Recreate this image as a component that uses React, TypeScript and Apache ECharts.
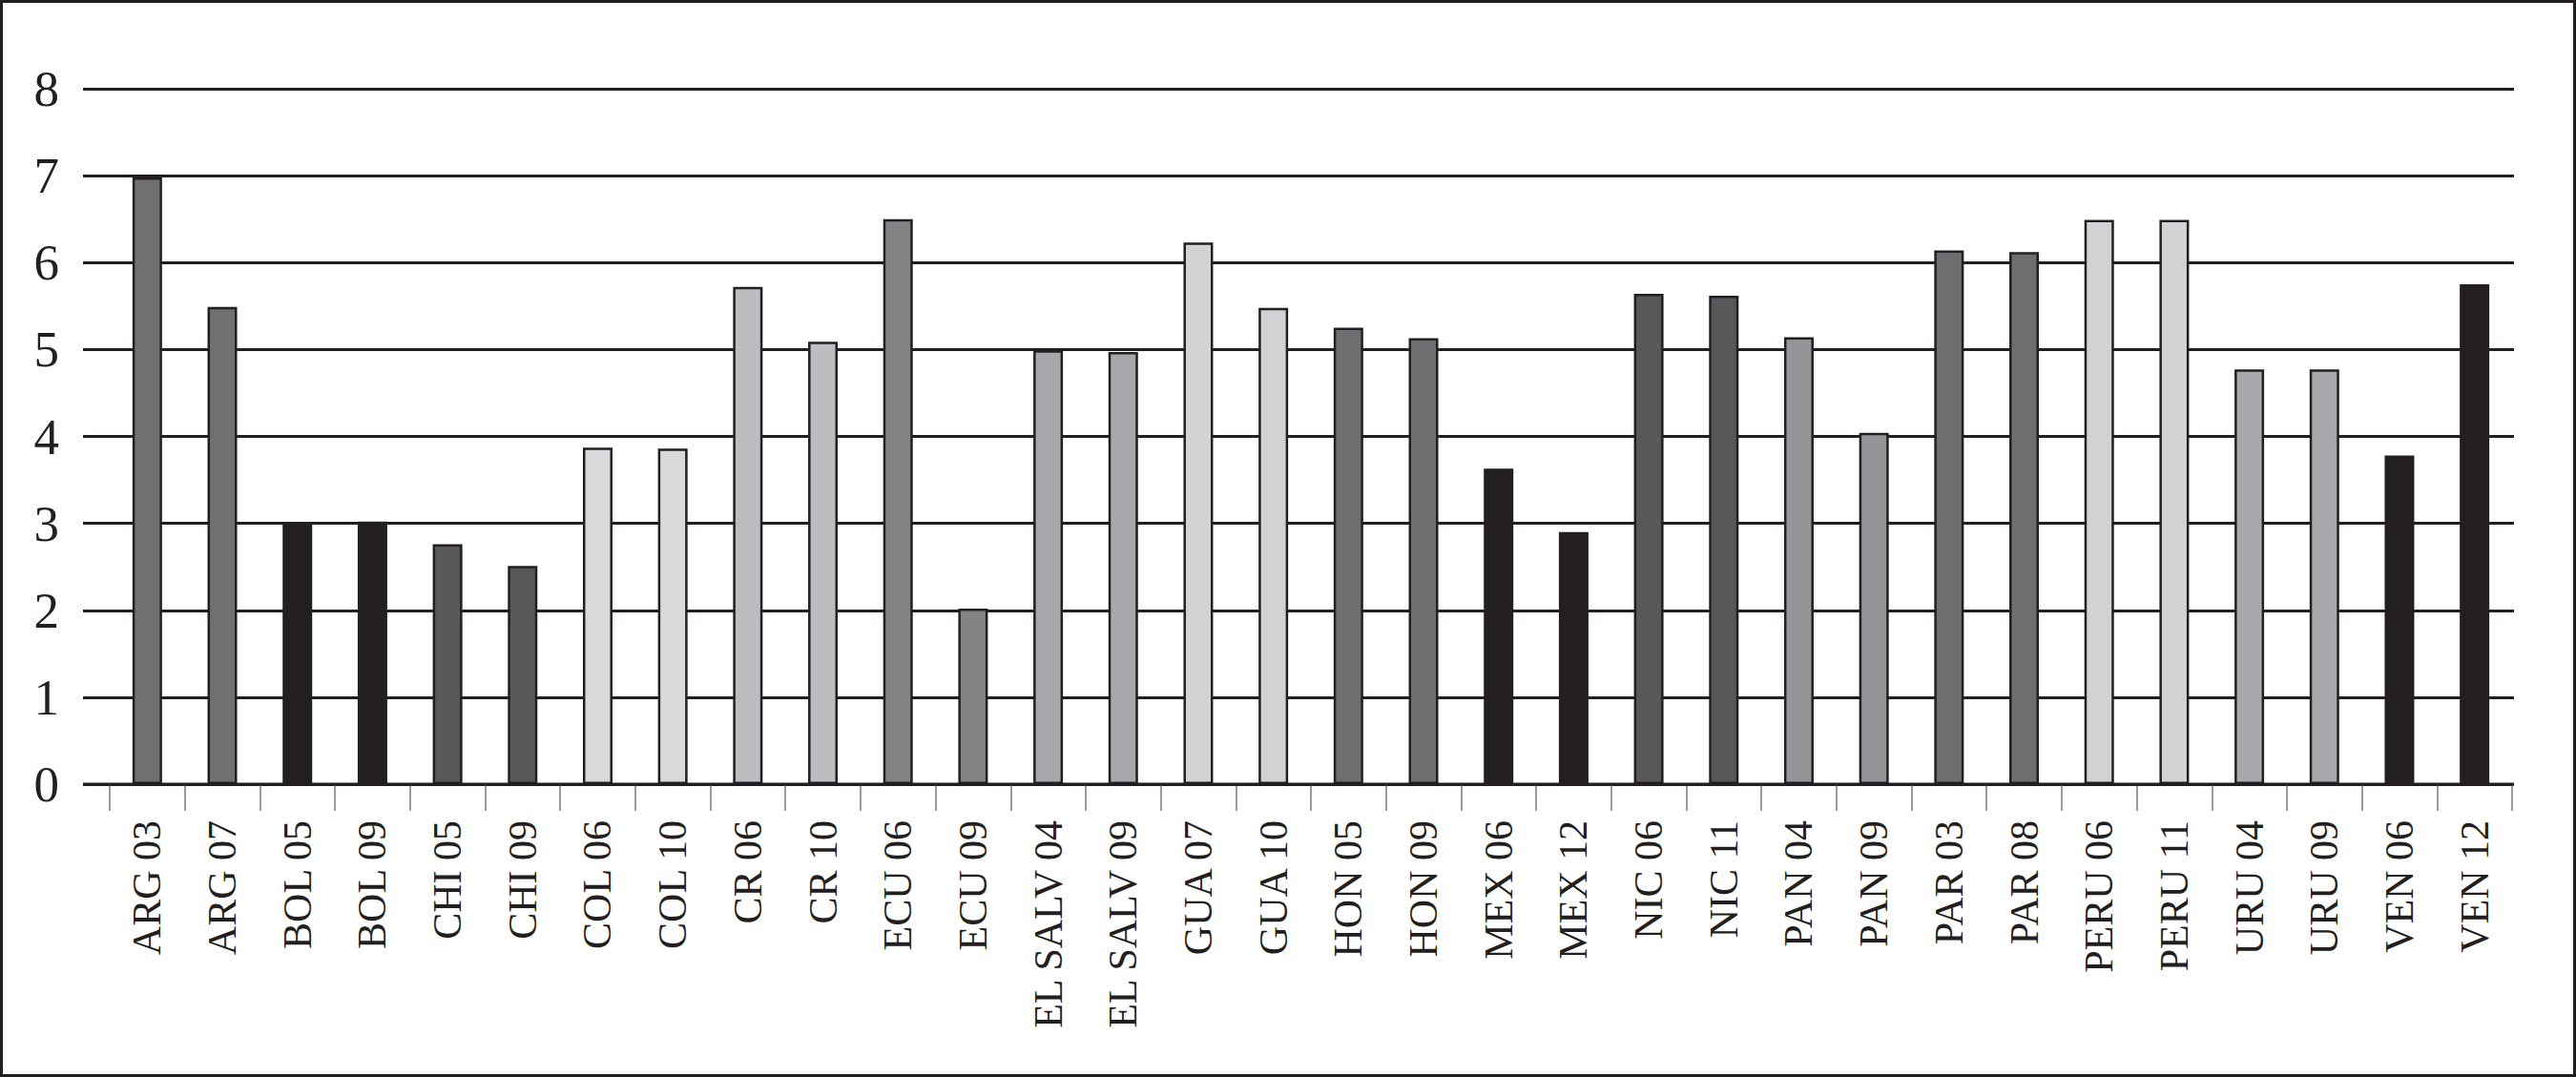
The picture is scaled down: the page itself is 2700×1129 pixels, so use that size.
import React, { useEffect, useRef } from "react";
import * as echarts from "echarts";

const categories: string[] = [
  "ARG 03", "ARG 07", "BOL 05", "BOL 09", "CHI 05", "CHI 09", "COL 06", "COL 10",
  "CR 06", "CR 10", "ECU 06", "ECU 09", "EL SALV 04", "EL SALV 09", "GUA 07", "GUA 10",
  "HON 05", "HON 09", "MEX 06", "MEX 12", "NIC 06", "NIC 11", "PAN 04", "PAN 09",
  "PAR 03", "PAR 08", "PERU 06", "PERU 11", "URU 04", "URU 09", "VEN 06", "VEN 12",
];

const values: number[] = [
  6.98, 5.49, 3.0, 3.02, 2.76, 2.51, 3.87, 3.86,
  5.72, 5.09, 6.5, 2.02, 4.99, 4.97, 6.23, 5.48,
  5.25, 5.13, 3.63, 2.9, 5.64, 5.62, 5.14, 4.04,
  6.14, 6.12, 6.49, 6.49, 4.77, 4.77, 3.78, 5.75,
];

const yTicks: number[] = [0, 1, 2, 3, 4, 5, 6, 7, 8];

// fill colour per country (style)
const countryColor: Record<string, string> = {
  ARG: "#707071",
  BOL: "#231f20",
  CHI: "#58585a",
  COL: "#d9d9db",
  CR: "#bcbdc0",
  ECU: "#828385",
  "EL SALV": "#a7a8ab",
  GUA: "#d1d2d4",
  HON: "#6d6e70",
  MEX: "#231f20",
  NIC: "#58585a",
  PAN: "#939598",
  PAR: "#6d6e70",
  PERU: "#d1d2d4",
  URU: "#a7a9ac",
  VEN: "#231f20",
};

const INK = "#231f20";
const FONT = "'Liberation Serif', 'Times New Roman', serif";

function colorFor(cat: string): string {
  const key = cat.replace(/\s+\d+$/, "");
  return countryColor[key] || "#888";
}

export default function App() {
  const ref = useRef<HTMLDivElement>(null);

  useEffect(() => {
    if (!ref.current) return;
    const chart = echarts.init(ref.current, undefined, { renderer: "svg" });
    const yMin = yTicks[0];
    const yMax = yTicks[yTicks.length - 1];
    chart.setOption({
      animation: false,
      backgroundColor: "#ffffff",
      grid: [
        { left: 87, top: 93, width: 2548, height: 729, containLabel: false },
        { left: 115, top: 93, width: 2518, height: 729, containLabel: false },
      ],
      xAxis: [
        {
          gridIndex: 0,
          type: "value",
          show: false,
        },
        {
          gridIndex: 1,
          type: "category",
          data: categories,
          boundaryGap: true,
          axisLine: { show: false },
          axisTick: {
            show: true,
            interval: 0,
            length: 28,
            lineStyle: { color: "#7a7a7a", width: 1.5 },
          },
          axisLabel: {
            interval: 0,
            rotate: 90,
            margin: 38,
            fontSize: 42,
            fontFamily: FONT,
            color: INK,
          },
          splitLine: { show: false },
        },
      ],
      yAxis: [
        {
          gridIndex: 0,
          type: "value",
          min: yMin,
          max: yMax,
          interval: 1,
          axisLine: { show: false },
          axisTick: { show: false },
          axisLabel: {
            margin: 25,
            fontSize: 53,
            fontFamily: FONT,
            color: INK,
          },
          splitLine: { show: true, lineStyle: { color: INK, width: 3 } },
        },
        {
          gridIndex: 1,
          type: "value",
          min: yMin,
          max: yMax,
          interval: 1,
          show: false,
          splitLine: { show: false },
        },
      ],
      series: [
        {
          type: "bar",
          xAxisIndex: 1,
          yAxisIndex: 1,
          barWidth: 31,
          z: 1,
          data: values.map((v, i) => ({
            value: v,
            itemStyle: {
              color: colorFor(categories[i]),
              borderColor: INK,
              borderWidth: 2.5,
            },
          })),
        },
      ],
      graphic: [
        {
          type: "line",
          z: 10,
          shape: { x1: 87, y1: 822, x2: 2635, y2: 822 },
          style: { stroke: INK, lineWidth: 3 },
        },
        {
          type: "rect",
          z: 10,
          shape: { x: 1.5, y: 1.5, width: 2697, height: 1126 },
          style: { fill: "none", stroke: INK, lineWidth: 3 },
        },
      ],
    });
    return () => chart.dispose();
  }, []);

  return (
    <div
      ref={ref}
      style={{ position: "fixed", left: 0, top: 0, width: 2700, height: 1129, background: "#fff" }}
    />
  );
}
